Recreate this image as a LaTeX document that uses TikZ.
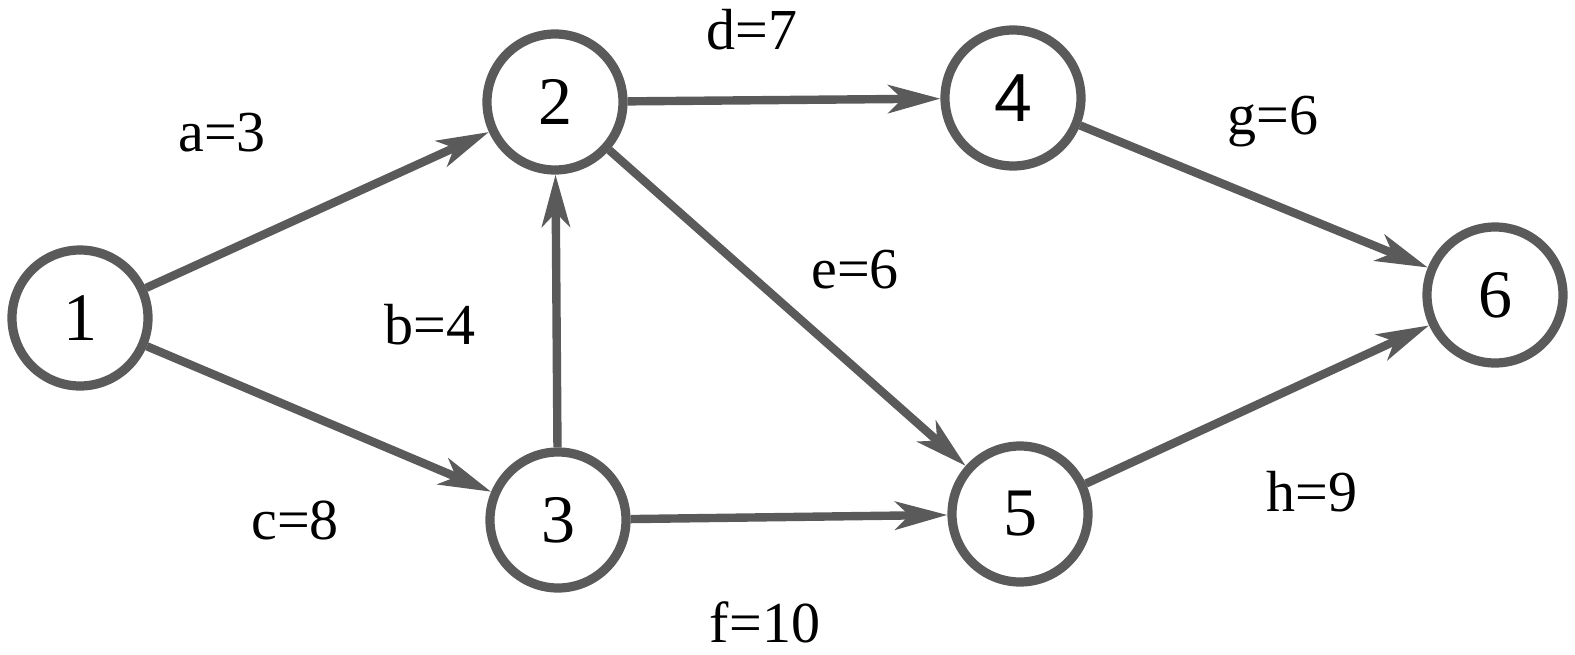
\documentclass[tikz,border=0pt]{standalone}
\usepackage{fontspec}
\setmainfont{Liberation Serif}
\newfontfamily\sansfour{Liberation Sans}
\usetikzlibrary{arrows.meta}
\definecolor{linegray}{HTML}{5A5A5A}
\begin{document}
\begin{tikzpicture}[x=0.5pt,y=-0.5pt,
  vertex/.style={circle,draw=linegray,line width=4.6pt,minimum size=68pt,inner sep=0pt,
    font=\fontsize{34}{36}\selectfont,text=black},
  edge/.style={draw=linegray,line width=4.2pt,-{Stealth[length=26pt,width=14pt,inset=7pt]}},
  wlabel/.style={font=\fontsize{29}{30}\selectfont,text=black,inner sep=0pt}]
\useasboundingbox (0,0) rectangle (1575,654);
\node[vertex] (n1) at (80,318) {1};
\node[vertex] (n2) at (555,102) {2};
\node[vertex] (n3) at (558,520) {3};
\node[vertex] (n4) at (1013,98) {\sansfour 4};
\node[vertex] (n5) at (1020,514) {5};
\node[vertex] (n6) at (1495,295) {6};
\draw[edge] (n1) -- (n2);
\draw[edge] (n1) -- (n3);
\draw[edge] (n3) -- (n2);
\draw[edge] (n2) -- (n4);
\draw[edge] (n2) -- (n5);
\draw[edge] (n3) -- (n5);
\draw[edge] (n4) -- (n6);
\draw[edge] (n5) -- (n6);
\node[wlabel] (la) at (222,133) {a=3};
\node[wlabel] (lb) at (430,325) {b=4};
\node[wlabel] (lc) at (295,520) {c=8};
\node[wlabel] (ld) at (752,30) {d=7};
\node[wlabel] (le) at (855,270) {e=6};
\node[wlabel] (lf) at (765,622) {f=10};
\node[wlabel] (lg) at (1273,122) {g=6};
\node[wlabel] (lh) at (1312,492) {h=9};
\end{tikzpicture}
\end{document}
